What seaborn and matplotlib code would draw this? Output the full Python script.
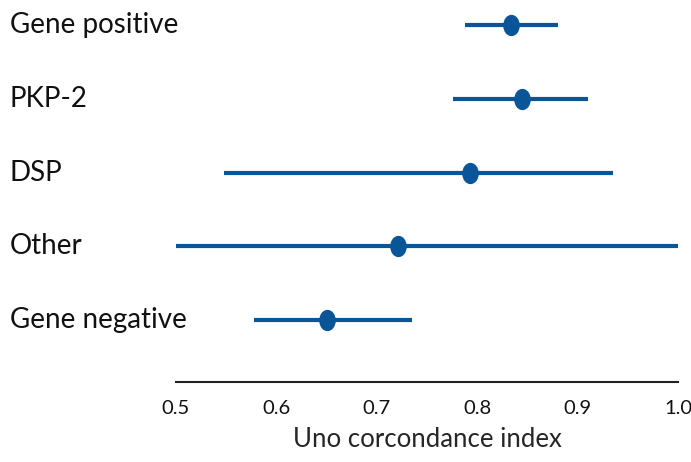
import matplotlib
matplotlib.use("Agg")
import matplotlib.pyplot as plt
import matplotlib.transforms as mtransforms
from matplotlib.markers import MarkerStyle
import seaborn as sns
import pandas as pd

# Uno concordance index by genotype group (estimate with interval)
groups = ["Gene positive", "PKP-2", "DSP", "Other", "Gene negative"]
estimate = [0.834, 0.845, 0.793, 0.721, 0.650]
lower = [0.788, 0.776, 0.548, 0.500, 0.578]
upper = [0.880, 0.910, 0.935, 1.000, 0.735]
xticks = [0.5, 0.6, 0.7, 0.8, 0.9, 1.0]

df = pd.DataFrame({"group": groups, "est": estimate, "lo": lower, "hi": upper})
df["pos"] = range(len(df))

sns.set_theme(style="white")
plt.rcParams["font.family"] = ["Lato", "DejaVu Sans"]

color = "#0a5597"
W, H = 691, 462
fig = plt.figure(figsize=(W / 100, H / 100), dpi=100)
ax = fig.add_axes([176 / W, (H - 382) / H, (678 - 176) / W, 382 / H])

ax.hlines(df["pos"], df["lo"], df["hi"], color=color, linewidth=3.0,
          clip_on=False, zorder=2)

# slightly upright oval markers for the point estimates
oval = MarkerStyle("o", transform=matplotlib.transforms.Affine2D().scale(0.78, 1.0))
sns.scatterplot(data=df, x="est", y="pos", ax=ax, color=color, s=235,
                marker=oval, edgecolor=color, linewidth=0, zorder=3,
                clip_on=False, legend=False)

ax.set_xlim(0.5, 1.0)
ax.set_ylim(4.84, -0.34)
ax.set_yticks([])
ax.set_ylabel("")
ax.set_xticks(xticks)
ax.set_xticklabels([f"{t:.1f}" for t in xticks], fontsize=14.5)
ax.set_xlabel("Uno corcondance index", fontsize=18.5, labelpad=7)
ax.tick_params(axis="x", direction="out", length=9, width=1.5,
               color="#222222", pad=4, labelcolor="#111111")
for side in ("top", "right", "left"):
    ax.spines[side].set_visible(False)
ax.spines["bottom"].set_color("#222222")
ax.spines["bottom"].set_linewidth(1.5)

# Row labels, left-aligned at the figure edge
trans = mtransforms.blended_transform_factory(fig.transFigure, ax.transData)
for p, g in zip(df["pos"], df["group"]):
    ax.text(10 / W, p, g, transform=trans, ha="left", va="center",
            fontsize=20, color="#111111")

fig.savefig("out.png", dpi=100)
